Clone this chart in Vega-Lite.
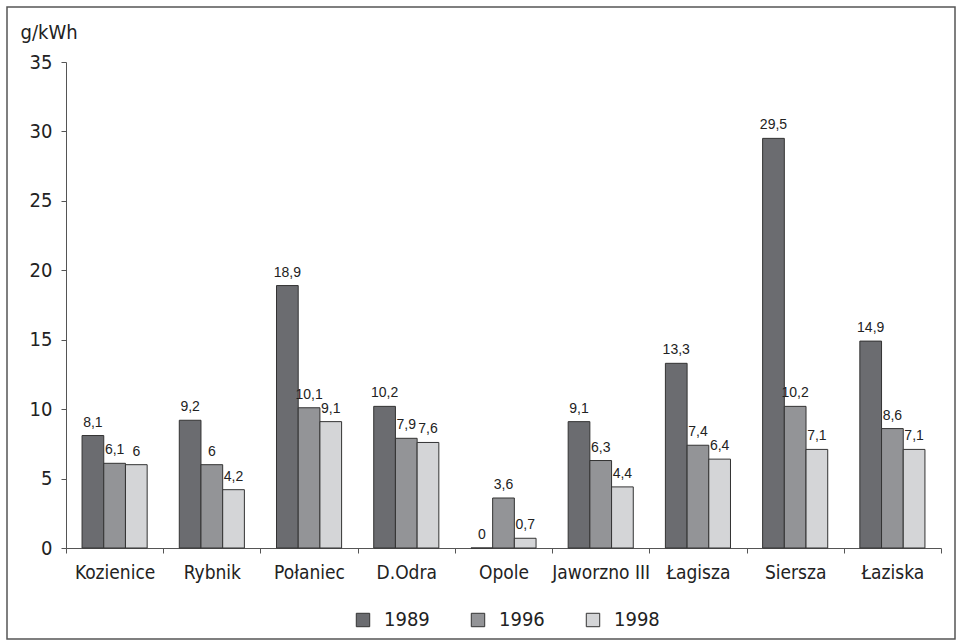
{
  "$schema": "https://vega.github.io/schema/vega-lite/v6.json",
  "width": 948,
  "height": 632,
  "autosize": "none",
  "padding": {"left": 7, "top": 7, "right": 1, "bottom": 2},
  "background": "white",
  "config": {
    "locale": {"number": {"decimal": ",", "thousands": "\u00a0", "grouping": [3], "currency": ["", ""]}},
    "view": {"stroke": "#555", "strokeWidth": 1.5},
    "font": "DejaVu Sans Condensed, sans-serif"
  },
  "data": {
    "values": [
      {"plant": "Kozienice", "year": "1989", "value": 8.1},
      {"plant": "Kozienice", "year": "1996", "value": 6.1},
      {"plant": "Kozienice", "year": "1998", "value": 6},
      {"plant": "Rybnik", "year": "1989", "value": 9.2},
      {"plant": "Rybnik", "year": "1996", "value": 6},
      {"plant": "Rybnik", "year": "1998", "value": 4.2},
      {"plant": "Połaniec", "year": "1989", "value": 18.9},
      {"plant": "Połaniec", "year": "1996", "value": 10.1},
      {"plant": "Połaniec", "year": "1998", "value": 9.1},
      {"plant": "D.Odra", "year": "1989", "value": 10.2},
      {"plant": "D.Odra", "year": "1996", "value": 7.9},
      {"plant": "D.Odra", "year": "1998", "value": 7.6},
      {"plant": "Opole", "year": "1989", "value": 0},
      {"plant": "Opole", "year": "1996", "value": 3.6},
      {"plant": "Opole", "year": "1998", "value": 0.7},
      {"plant": "Jaworzno III", "year": "1989", "value": 9.1},
      {"plant": "Jaworzno III", "year": "1996", "value": 6.3},
      {"plant": "Jaworzno III", "year": "1998", "value": 4.4},
      {"plant": "Łagisza", "year": "1989", "value": 13.3},
      {"plant": "Łagisza", "year": "1996", "value": 7.4},
      {"plant": "Łagisza", "year": "1998", "value": 6.4},
      {"plant": "Siersza", "year": "1989", "value": 29.5},
      {"plant": "Siersza", "year": "1996", "value": 10.2},
      {"plant": "Siersza", "year": "1998", "value": 7.1},
      {"plant": "Łaziska", "year": "1989", "value": 14.9},
      {"plant": "Łaziska", "year": "1996", "value": 8.6},
      {"plant": "Łaziska", "year": "1998", "value": 7.1}
    ]
  },
  "encoding": {
    "x": {
      "field": "plant",
      "type": "nominal",
      "sort": null,
      "scale": {"range": [59, 934], "paddingInner": 0, "paddingOuter": 0},
      "axis": {
        "orient": "bottom",
        "offset": -91,
        "title": null,
        "labelAngle": 0,
        "tickBand": "extent",
        "tickSize": 5,
        "labelPadding": 10,
        "labelFontSize": 19,
        "labelColor": "#222",
        "domainColor": "#555",
        "tickColor": "#555"
      }
    },
    "xOffset": {
      "field": "year",
      "type": "nominal",
      "scale": {"paddingInner": 0, "paddingOuter": 0.74}
    },
    "y": {
      "field": "value",
      "type": "quantitative",
      "scale": {"domain": [0, 35], "range": [541, 55], "nice": false},
      "axis": {
        "orient": "left",
        "offset": -59,
        "values": [0, 5, 10, 15, 20, 25, 30, 35],
        "grid": false,
        "tickSize": 5,
        "labelPadding": 9,
        "labelFontSize": 20,
        "labelColor": "#222",
        "domainColor": "#555",
        "tickColor": "#555",
        "title": "g/kWh",
        "titleAngle": 0,
        "titleX": -46,
        "titleY": 31,
        "titleAlign": "left",
        "titleBaseline": "alphabetic",
        "titleFontSize": 20,
        "titleFontWeight": "normal",
        "titleColor": "#222"
      }
    }
  },
  "layer": [
    {
      "mark": {"type": "bar", "stroke": "#333", "strokeWidth": 1},
      "encoding": {
        "fill": {
          "field": "year",
          "type": "nominal",
          "scale": {"domain": ["1989", "1996", "1998"], "range": ["#6b6c70", "#939497", "#d4d5d7"]},
          "legend": {
            "orient": "none",
            "legendX": 346,
            "legendY": 603,
            "direction": "horizontal",
            "title": null,
            "padding": 0,
            "symbolType": "square",
            "symbolSize": 180,
            "symbolStrokeColor": "#333",
            "symbolStrokeWidth": 1,
            "labelFontSize": 20,
            "labelColor": "#222",
            "labelOffset": 11,
            "columnPadding": 38
          }
        }
      }
    },
    {
      "mark": {"type": "text", "baseline": "alphabetic", "dy": -9, "fontSize": 14, "font": "Liberation Sans, Arial, sans-serif", "color": "#222"},
      "encoding": {
        "text": {"field": "value", "type": "quantitative", "format": ".1~f"}
      }
    }
  ]
}
